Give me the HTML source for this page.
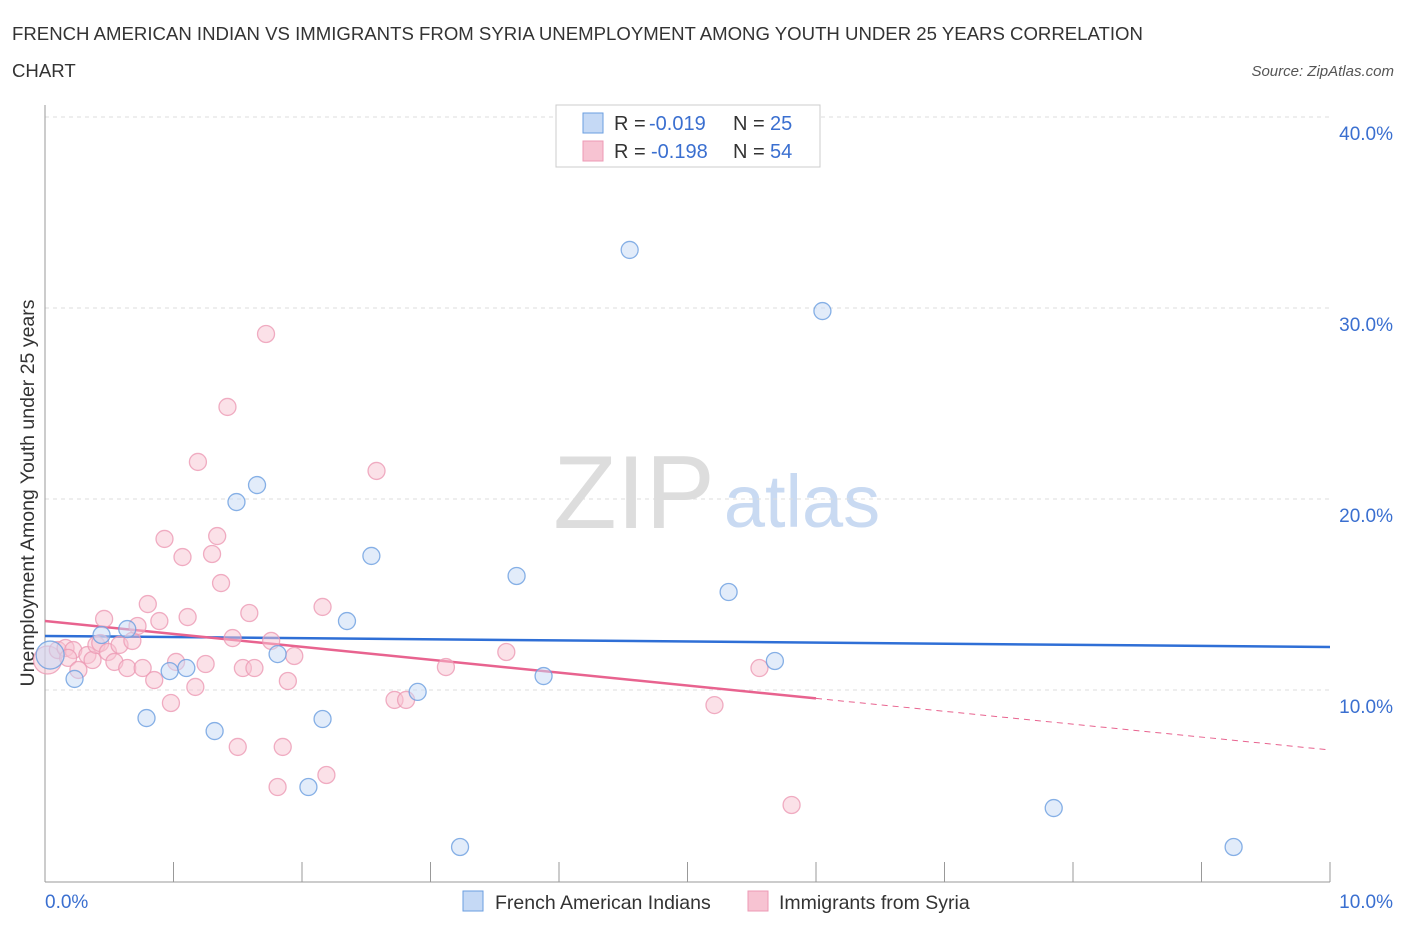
<!DOCTYPE html>
<html><head><meta charset="utf-8"><style>
body{margin:0;background:#fff;font-family:"Liberation Sans",sans-serif}
svg text{font-family:"Liberation Sans",sans-serif}
</style></head><body>
<svg id="chart" width="1406" height="930" viewBox="0 0 1406 930" xmlns="http://www.w3.org/2000/svg">
<text x="12" y="40" font-size="18.6" fill="#333">FRENCH AMERICAN INDIAN VS IMMIGRANTS FROM SYRIA UNEMPLOYMENT AMONG YOUTH UNDER 25 YEARS CORRELATION</text>
<text x="12" y="77" font-size="18.6" fill="#333">CHART</text>
<text x="1394" y="76" font-size="15" fill="#555" text-anchor="end" font-style="italic">Source: ZipAtlas.com</text>
<g>
<text x="634" y="528" font-size="104" fill="#ddd" font-family="Liberation Serif" text-anchor="middle">ZIP</text>
<text x="802" y="527" font-size="74" fill="#c9daf2" text-anchor="middle">atlas</text>
</g>
<g id="grid"></g>
<g id="axes"></g>
<g id="trends"></g>
<g id="points"></g>
<g>
<rect x="556" y="105" width="264" height="62" fill="#fff" stroke="#ccc"/>
<rect x="583" y="113" width="20" height="20" fill="#c5d9f5" stroke="#6a9ee0"/>
<text x="614" y="130" font-size="20" fill="#333">R =</text>
<text x="649" y="130" font-size="20" fill="#3a6fd0">-0.019</text>
<text x="733" y="130" font-size="20" fill="#333">N =</text>
<text x="770" y="130" font-size="20" fill="#3a6fd0">25</text>
<rect x="583" y="141" width="20" height="20" fill="#f7c3d2" stroke="#ec9ab4"/>
<text x="614" y="158" font-size="20" fill="#333">R =</text>
<text x="651" y="158" font-size="20" fill="#3a6fd0">-0.198</text>
<text x="733" y="158" font-size="20" fill="#333">N =</text>
<text x="770" y="158" font-size="20" fill="#3a6fd0">54</text>
</g>
<g>
<rect x="463" y="891" width="20" height="20" fill="#c5d9f5" stroke="#6a9ee0"/>
<text x="495" y="909" font-size="19.5" fill="#333">French American Indians</text>
<rect x="748" y="891" width="20" height="20" fill="#f7c3d2" stroke="#ec9ab4"/>
<text x="779" y="909" font-size="19.5" fill="#333">Immigrants from Syria</text>
</g>
</svg>
<script>
const blueX=[0.04,0.23,0.44,0.64,0.79,0.97,1.10,1.32,1.49,1.65,1.81,2.05,2.16,2.35,2.54,2.90,3.23,3.67,3.88,4.55,5.32,5.68,6.05,7.85,9.25];
const blueY=[11.83,10.58,12.88,13.19,8.53,10.99,11.15,7.85,19.84,20.73,11.88,4.92,8.48,13.61,17.02,9.90,1.78,15.97,10.73,33.04,15.13,11.52,29.84,3.82,1.78];
const pinkX=[0.02,0.10,0.16,0.22,0.18,0.26,0.33,0.37,0.40,0.46,0.43,0.49,0.54,0.58,0.64,0.68,0.72,0.76,0.80,0.85,0.89,0.93,0.98,1.02,1.07,1.11,1.17,1.19,1.25,1.30,1.34,1.37,1.42,1.46,1.50,1.54,1.59,1.63,1.72,1.76,1.81,1.85,1.89,1.94,2.16,2.19,2.58,2.72,2.81,3.12,3.59,5.21,5.56,5.81];
const pinkY=[11.57,12.09,12.20,12.09,11.68,11.05,11.83,11.57,12.36,13.72,12.46,11.99,11.47,12.36,11.15,12.57,13.35,11.15,14.50,10.52,13.61,17.91,9.32,11.47,16.96,13.82,10.16,21.94,11.36,17.12,18.06,15.60,24.82,12.72,7.02,11.15,14.03,11.15,28.64,12.57,4.92,7.02,10.47,11.78,14.35,5.55,21.47,9.48,9.48,11.20,11.99,9.21,11.15,3.98];
const blueTrend=[12.83,12.25];
const pinkTrend=[13.61,6.86];
const pinkSolidEnd=6.0;
const yTicks=[10,20,30,40];
const yTickLabels=["10.0%","20.0%","30.0%","40.0%"];
const xTickLabels=["0.0%","10.0%"];
const X0=45,X1=1330,Y0=881,PPY=19.1;
const sx=v=>X0+(X1-X0)*v/10;
const sy=v=>Y0-PPY*v;
const NS="http://www.w3.org/2000/svg";
function mk(tag,parent,attrs){const e=document.createElementNS(NS,tag);for(const k in attrs)e.setAttribute(k,attrs[k]);document.getElementById(parent).appendChild(e);return e;}
yTicks.forEach((t,i)=>{
 const g=mk('line','grid',{x1:X0,x2:X1,y1:sy(t),y2:sy(t),stroke:'#ddd','stroke-dasharray':'4,4'});
 
 
 const l=mk('text','axes',{x:1393,y:sy(t)+23,'font-size':19,fill:'#3a6fd0','text-anchor':'end'});
 l.textContent=yTickLabels[i];
 
 
});
const ax=mk('line','axes',{x1:X0,x2:X1,y1:Y0+1,y2:Y0+1,stroke:'#999'});


const ay=mk('line','axes',{x1:X0,x2:X0,y1:105,y2:Y0+1,stroke:'#999'});


for(let i=0;i<=10;i++){
 const t=mk('line','axes',{x1:sx(i),x2:sx(i),y1:Y0-19,y2:Y0+1,stroke:'#999'});
 
 
}
const xl0=mk('text','axes',{x:45,y:908,'font-size':19,fill:'#3a6fd0'});xl0.textContent=xTickLabels[0];


const xl1=mk('text','axes',{x:1393,y:908,'font-size':19,fill:'#3a6fd0','text-anchor':'end'});xl1.textContent=xTickLabels[1];


const yt=mk('text','axes',{x:0,y:0,'font-size':19.5,fill:'#333','text-anchor':'middle',transform:'translate(34,493) rotate(-90)'});
yt.textContent='Unemployment Among Youth under 25 years';


const bt=mk('line','trends',{x1:sx(0),x2:sx(10),y1:sy(blueTrend[0]),y2:sy(blueTrend[1]),stroke:'#2f6fd6','stroke-width':2.5});


const pAt=v=>pinkTrend[0]+(pinkTrend[1]-pinkTrend[0])*v/10;
const pt=mk('line','trends',{x1:sx(0),x2:sx(pinkSolidEnd),y1:sy(pAt(0)),y2:sy(pAt(pinkSolidEnd)),stroke:'#e8638f','stroke-width':2.5});


const pd=mk('line','trends',{x1:sx(pinkSolidEnd),x2:sx(10),y1:sy(pAt(pinkSolidEnd)),y2:sy(pAt(10)),stroke:'#e8638f','stroke-width':1,'stroke-dasharray':'6,5'});


pinkX.forEach((x,i)=>{
 const c=mk('circle','points',{cx:sx(x),cy:sy(pinkY[i]),r:i==0?14:8.5,fill:'#f7c3d2','fill-opacity':0.5,stroke:'#ec9ab4','stroke-opacity':0.8,'stroke-width':1.3});
 
 
});
blueX.forEach((x,i)=>{
 const c=mk('circle','points',{cx:sx(x),cy:sy(blueY[i]),r:i==0?14:8.5,fill:'#c5d9f5','fill-opacity':0.5,stroke:'#6a9ee0','stroke-opacity':0.8,'stroke-width':1.3});
 
 
});
</script>
</body></html>
